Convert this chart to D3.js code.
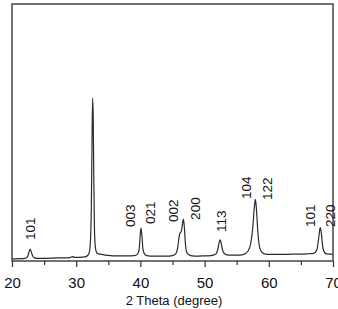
<!DOCTYPE html>
<html>
<head>
<meta charset="utf-8">
<script src="https://cdn.jsdelivr.net/npm/d3@7"></script>
<style>
  body { margin: 0; background: #fff; }
  text { font-family: Arial, "Liberation Sans", sans-serif; fill: #111; }
</style>
</head>
<body>
<div id="xrd"></div>
<script>
// 2 theta (degree) and intensity (a.u.)
const theta = [20, 20.5, 21, 21.5, 22, 22.4, 22.6, 22.8, 23, 23.2, 23.5, 24, 25, 26, 27, 28, 29, 29.3, 29.5, 29.7, 30, 31, 31.6,
  32, 32.2, 32.35, 32.45, 32.55, 32.65, 32.75, 32.85, 33, 33.2, 33.5, 34, 34.5, 35, 36, 37, 38, 39, 39.5, 39.8,
  40, 40.1, 40.25, 40.4, 40.7, 41, 42, 43, 44, 45, 45.5, 45.8, 46, 46.2, 46.35, 46.5, 46.7, 46.85, 47, 47.2, 47.5,
  48, 49, 50, 51, 51.7, 52, 52.3, 52.45, 52.6, 52.8, 53.1, 53.5, 54, 55, 56, 56.8, 57.2, 57.5, 57.75, 57.9, 58.05,
  58.3, 58.6, 59, 59.5, 60, 61, 62, 63, 64, 65, 66, 67, 67.5, 67.8, 68, 68.15, 68.4, 68.7, 69, 70];
const intensity = [8, 8, 9, 9, 10, 16, 30, 46, 36, 20, 12, 10, 10, 11, 12, 12, 13, 16, 17, 14, 14, 15, 18,
  30, 70, 200, 420, 634, 560, 300, 120, 50, 32, 28, 26, 23, 22, 20, 20, 20, 21, 25, 45,
  110, 128, 95, 45, 25, 21, 19, 19, 19, 21, 28, 50, 90, 110, 113, 135, 163, 130, 70, 35, 25,
  20, 19, 20, 21, 26, 40, 75, 82, 68, 42, 28, 24, 23, 23, 25, 40, 70, 130, 210, 240, 210,
  110, 50, 32, 27, 26, 26, 26, 26, 27, 27, 28, 30, 45, 95, 130, 115, 55, 32, 28, 26];

const peakLabels = ["101", "003", "021", "002", "200", "113", "104", "122", "101", "220"];
const labelTheta = [22.8, 38.4, 41.5, 45.1, 48.5, 52.55, 56.45, 59.7, 66.4, 69.5];
const labelLevel = [82, 132, 144, 152, 160, 113, 241, 237, 132, 132];

const majorTicks = [20, 30, 40, 50, 60, 70];
const minorTicks = [25, 35, 45, 55, 65];

const width = 338, height = 309;
const margin = { top: 4, right: 5, bottom: 48, left: 12 };

const svg = d3.select("#xrd").append("svg")
  .attr("width", width).attr("height", height);

const x = d3.scaleLinear().domain([20, 70]).range([margin.left, width - margin.right]);
const y = d3.scaleLinear().domain([0, 1000]).range([height - margin.bottom, margin.top]);

const points = theta.map((t, i) => [t, intensity[i]]);

const line = d3.line()
  .x(d => x(d[0]))
  .y(d => y(d[1]))
  .curve(d3.curveMonotoneX);

svg.append("path")
  .datum(points)
  .attr("d", line)
  .attr("fill", "none")
  .attr("stroke", "#2a2a2a")
  .attr("stroke-width", 1.2);

// frame
svg.append("rect")
  .attr("x", margin.left).attr("y", margin.top)
  .attr("width", width - margin.right - margin.left)
  .attr("height", height - margin.bottom - margin.top)
  .attr("fill", "none")
  .attr("stroke", "#444")
  .attr("stroke-width", 1.5);

// axis
const gx = svg.append("g")
  .attr("transform", "translate(0," + (height - margin.bottom) + ")")
  .call(d3.axisBottom(x).tickValues(majorTicks).tickSize(6).tickSizeOuter(0).tickPadding(10).tickFormat(d3.format("d")));
gx.select(".domain").remove();
gx.selectAll("line").attr("stroke", "#333").attr("stroke-width", 1.2);
gx.selectAll("text").attr("font-size", "15px").attr("fill", "#111");

const gm = svg.append("g")
  .attr("transform", "translate(0," + (height - margin.bottom) + ")")
  .call(d3.axisBottom(x).tickValues(minorTicks).tickSize(4).tickSizeOuter(0).tickFormat(""));
gm.select(".domain").remove();
gm.selectAll("line").attr("stroke", "#333").attr("stroke-width", 1.2);

svg.append("text")
  .attr("x", 174).attr("y", 305)
  .attr("text-anchor", "middle")
  .attr("font-size", "13px")
  .text("2 Theta (degree)");

// peak indexes
svg.selectAll(".hkl")
  .data(peakLabels)
  .enter()
  .append("text")
  .attr("class", "hkl")
  .attr("transform", (d, i) => "translate(" + x(labelTheta[i]) + "," + y(labelLevel[i]) + ") rotate(-90)")
  .attr("dy", "0.35em")
  .attr("font-size", "13.5px")
  .text(d => d);
</script>
</body>
</html>
